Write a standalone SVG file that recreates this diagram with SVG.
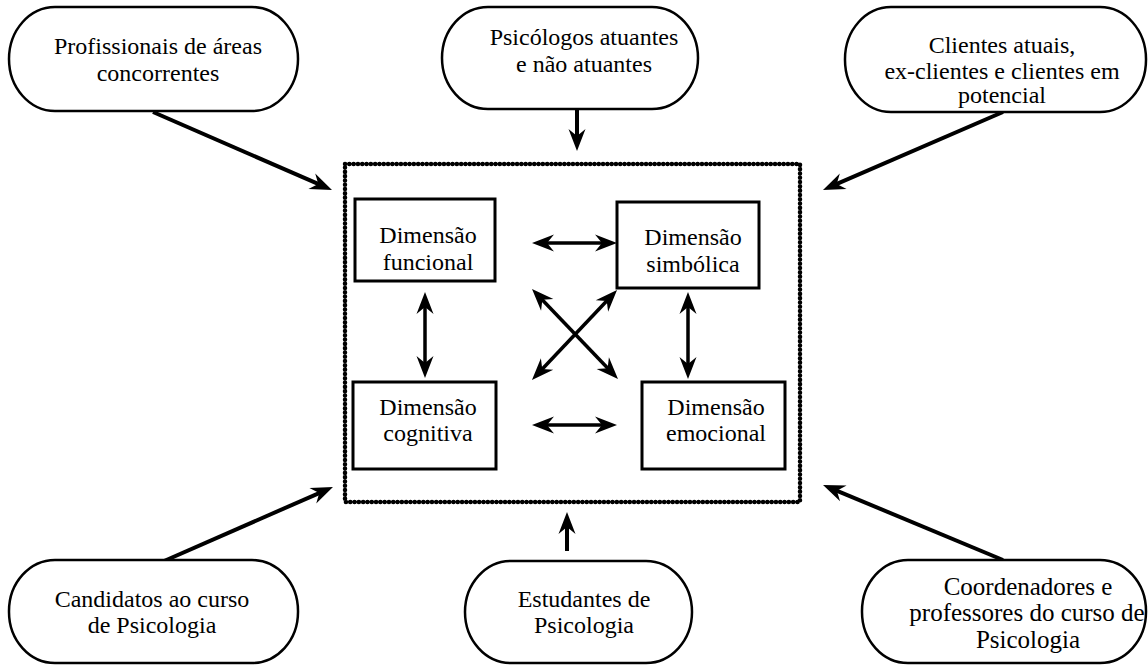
<svg xmlns="http://www.w3.org/2000/svg" width="1148" height="666" viewBox="0 0 1148 666">
<style>
.pill{fill:#fff;stroke:#000;stroke-width:2.5}
.box{fill:#fff;stroke:#000;stroke-width:3}
.t{font-family:"Liberation Serif","Times New Roman","DejaVu Serif",serif;font-size:24px;fill:#000;text-anchor:middle}
.c{stroke:#000;fill:none;stroke-width:4;marker-end:url(#ah)}
.d{stroke:#000;fill:none;stroke-width:3.5;marker-start:url(#ah);marker-end:url(#ah)}
</style>
<defs>
<marker id="ah" viewBox="-23 -9 24 18" refX="-12" refY="0" markerWidth="24" markerHeight="18" markerUnits="userSpaceOnUse" orient="auto-start-reverse" overflow="visible">
<path d="M0,0 L-22,-8.5 L-15,0 L-22,8.5 Z" fill="#000"/>
</marker>
</defs>
<rect width="1148" height="666" fill="#fff"/>
<g id="frame">
<rect x="345" y="164" width="455" height="338" fill="none" stroke="#000" stroke-width="4.5" stroke-dasharray="0.1 4.2" stroke-linecap="round"/>
</g>
<g id="connectors">
<line class="c" x1="153" y1="112" x2="321" y2="185.2"/>
<line class="c" x1="577" y1="110" x2="577" y2="139"/>
<line class="c" x1="1003" y1="112" x2="834" y2="185.2"/>
<line class="c" x1="155" y1="565" x2="322" y2="491.8"/>
<line class="c" x1="567" y1="551" x2="567" y2="524"/>
<line class="c" x1="1003" y1="560" x2="834.1" y2="489.6"/>
<line class="d" x1="544" y1="243" x2="605" y2="243"/>
<line class="d" x1="544" y1="425" x2="605" y2="425"/>
<line class="d" x1="425" y1="304" x2="425" y2="366"/>
<line class="d" x1="688" y1="304" x2="688" y2="367"/>
<line class="d" x1="540.3" y1="297.7" x2="609.7" y2="370.3"/>
<line class="d" x1="608.8" y1="298.7" x2="540.2" y2="371.3"/>
</g>
<g id="n-profissionais">
<rect class="pill" x="9" y="7" width="289" height="104" rx="46" ry="52"/>
<text class="t" x="158" y="54">Profissionais de áreas</text>
<text class="t" x="158" y="81">concorrentes</text>
</g>
<g id="n-psicologos">
<rect class="pill" x="442" y="7" width="256" height="102" rx="46" ry="51"/>
<text class="t" x="584" y="45">Psicólogos atuantes</text>
<text class="t" x="584" y="72">e não atuantes</text>
</g>
<g id="n-clientes">
<rect class="pill" x="845" y="7" width="301" height="105" rx="46" ry="52"/>
<text class="t" x="1002" y="53">Clientes atuais,</text>
<text class="t" x="1002" y="79">ex-clientes e clientes em</text>
<text class="t" x="1002" y="103">potencial</text>
</g>
<g id="n-candidatos">
<rect class="pill" x="9" y="560" width="289" height="103" rx="46" ry="51"/>
<text class="t" x="152" y="607">Candidatos ao curso</text>
<text class="t" x="152" y="633">de Psicologia</text>
</g>
<g id="n-estudantes">
<rect class="pill" x="465" y="561" width="227" height="102" rx="46" ry="51"/>
<text class="t" x="584" y="607">Estudantes de</text>
<text class="t" x="584" y="633">Psicologia</text>
</g>
<g id="n-coordenadores">
<rect class="pill" x="862" y="560" width="284" height="103" rx="46" ry="51"/>
<text class="t" x="1028" y="595" style="font-size:25px">Coordenadores e</text>
<text class="t" x="1027" y="621" style="font-size:25px">professores do curso de</text>
<text class="t" x="1028" y="648" style="font-size:25px">Psicologia</text>
</g>
<g id="n-funcional">
<rect class="box" x="355" y="199" width="140" height="82"/>
<text class="t" x="428" y="243">Dimensão</text>
<text class="t" x="428" y="270">funcional</text>
</g>
<g id="n-simbolica">
<rect class="box" x="617" y="202" width="142" height="86"/>
<text class="t" x="693" y="245">Dimensão</text>
<text class="t" x="693" y="272">simbólica</text>
</g>
<g id="n-cognitiva">
<rect class="box" x="353" y="382" width="143" height="87"/>
<text class="t" x="428" y="415">Dimensão</text>
<text class="t" x="428" y="441">cognitiva</text>
</g>
<g id="n-emocional">
<rect class="box" x="642" y="382" width="143" height="87"/>
<text class="t" x="716" y="415">Dimensão</text>
<text class="t" x="716" y="441">emocional</text>
</g>
</svg>
